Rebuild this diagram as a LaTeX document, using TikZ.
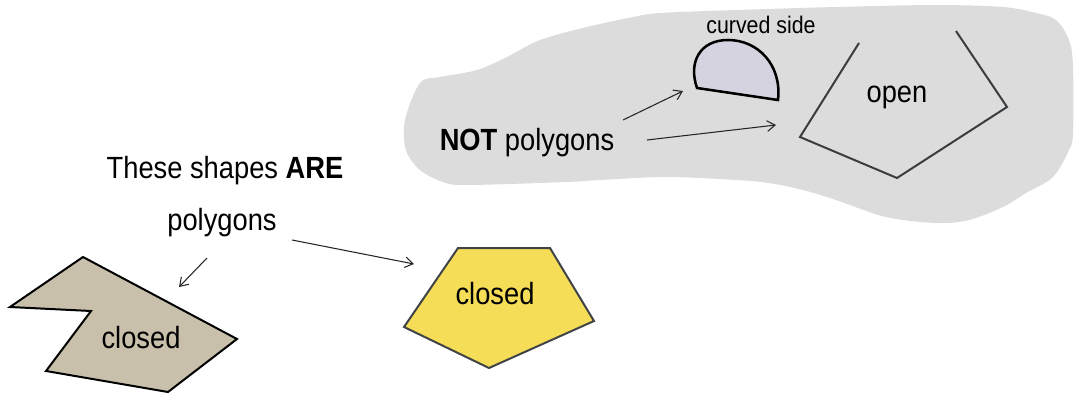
\documentclass[tikz,border=0pt]{standalone}
\usepackage{fontspec}
\setmainfont{Liberation Sans}[FakeStretch=0.89]
\usetikzlibrary{arrows.meta}
\definecolor{blobgray}{RGB}{220,220,220}
\definecolor{beige}{RGB}{200,192,170}
\definecolor{sunyellow}{RGB}{246,221,88}
\definecolor{lavender}{RGB}{212,211,223}
\definecolor{darkline}{RGB}{64,68,70}
\tikzset{
  lbl/.style={font=\fontsize{23}{26}\selectfont, inner sep=0pt, anchor=base},
  smalllbl/.style={font=\fontsize{18}{21}\selectfont, inner sep=0pt, anchor=base},
  arr/.style={-{Straight Barb[length=6pt,width=8pt]}, line width=0.8pt, draw=black!85},
  shapeline/.style={line width=1.5pt, line join=miter}
}
\begin{document}
\begin{tikzpicture}[x=0.75pt,y=-0.75pt]
\useasboundingbox (0,0) rectangle (1076,396);
% gray blob
\fill[blobgray] plot[smooth cycle, tension=0.55] coordinates {
 (405,120) (420,83) (440,77) (477,70) (507,57) (540,40) (587,27) (633,17) (660,13)
 (736,10) (836,7) (936,5) (1003,7) (1036,13) (1056,20) (1069,40) (1073,67) (1073,133)
 (1069,150) (1053,177) (1026,193) (1003,207) (969,220) (936,223) (886,217) (836,200)
 (803,190) (769,183) (736,180) (667,177) (600,180) (567,182) (467,185) (443,182) (420,170) (406,150)};
% left closed polygon
\filldraw[shapeline, fill=beige, draw=black] (83,257) -- (10,307) -- (91,311) -- (46,371) -- (168,392) -- (237,339) -- cycle;
% yellow pentagon
\filldraw[shapeline, fill=sunyellow, draw=darkline] (458,248) -- (550,248) -- (594,321) -- (489,368) -- (404,327) -- cycle;
% curved side shape
\filldraw[line width=1.9pt, fill=lavender, draw=black] (697,88) -- (778,100) .. controls (782,65) and (758,40) .. (728,40) .. controls (700,40) and (688,62) .. (697,88) -- cycle;
% open shape
\draw[shapeline, draw=darkline!90!black] (859,43) -- (800,137) -- (897,178) -- (1007,107) -- (956,31);
% texts
\node[lbl] (these) at (225,178) {These shapes \textbf{ARE}};
\node[lbl] (are) at (222,230) {polygons};
\node[lbl] (c1) at (141,348) {closed};
\node[lbl] (c2) at (495,304) {closed};
\node[lbl] (open) at (897,102) {open};
\node[lbl] (notp) at (527,150) {\textbf{NOT} polygons};
\node[smalllbl] (curved) at (761,33) {curved side};
% arrow endpoints
\coordinate (a1s) at (207,258); \coordinate (a1e) at (179,287);
\coordinate (a2s) at (292,240); \coordinate (a2e) at (414,264);
\coordinate (a3s) at (623,120); \coordinate (a3e) at (683,91);
\coordinate (a4s) at (647,140); \coordinate (a4e) at (776,125);
\draw[arr] (a1s) -- (a1e);
\draw[arr] (a2s) -- (a2e);
\draw[arr] (a3s) -- (a3e);
\draw[arr] (a4s) -- (a4e);
\end{tikzpicture}
\end{document}
